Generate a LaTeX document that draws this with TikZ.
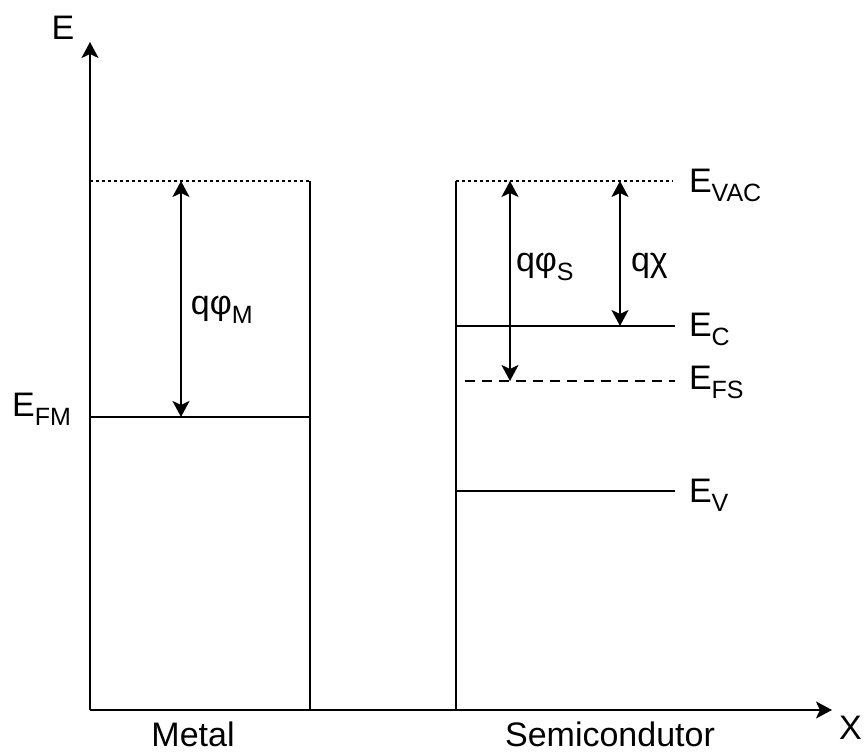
\documentclass[tikz,border=0pt]{standalone}
\usepackage{fontspec}
\setmainfont{Liberation Sans}
\usetikzlibrary{arrows.meta}
\newcommand{\lvsub}[1]{\raisebox{-4.5pt}{\fontsize{12.5}{13}\selectfont #1}}

\begin{document}
\begin{tikzpicture}[
  x=0.5pt, y=-0.5pt, font=\fontsize{17}{20}\selectfont, line width=1pt,
  >={Stealth[length=8pt,width=8.5pt,inset=2pt]},
  vac/.style={dash pattern=on 1.5pt off 1.5pt},
  fermi/.style={dash pattern=on 5pt off 3.5pt},
  gap/.style={<->,line width=1pt},
  lbl/.style={anchor=base west,inner sep=0pt},
]
\useasboundingbox (0,0) rectangle (864,753);

% Axes
\coordinate (o)    at (90,710);
\coordinate (ytip) at (90,42);
\coordinate (xtip) at (832,710);
\draw[->] (o) -- (ytip);
\draw[->] (o) -- (xtip);
\node[lbl,anchor=base] (elab) at (63,40) {E};
\node[lbl] (xlab) at (838,740) {X};

% Metal side: vacuum level, Fermi level and work function
\coordinate (mvacL) at (90,181);
\coordinate (mvacR) at (310,181);
\coordinate (mbot)  at (310,710);
\coordinate (mfL)   at (90,417);
\coordinate (mfR)   at (310,417);
\coordinate (mphiT) at (181,181);
\coordinate (mphiB) at (181,417);
\draw[vac] (mvacL) -- (mvacR);
\draw (mvacR) -- (mbot);
\draw (mfL) -- (mfR);
\draw[gap] (mphiT) -- (mphiB);
\node[lbl] (phim) at (190,315) {qφ\lvsub{M}};
\node[lbl,anchor=base east] (efm) at (72,417) {E\lvsub{FM}};
\node[lbl,anchor=base] (metal) at (193,747) {Metal};

% Semiconductor side: band edges and Fermi level
\coordinate (svacL) at (456,181);
\coordinate (svacR) at (673,181);
\coordinate (sbot)  at (456,710);
\coordinate (scL)   at (456,326);
\coordinate (scR)   at (675,326);
\coordinate (sfL)   at (465,381);
\coordinate (sfR)   at (675,381);
\coordinate (svL)   at (456,491);
\coordinate (svR)   at (675,491);
\draw[vac] (svacL) -- (svacR);
\draw (svacL) -- (sbot);
\draw (scL) -- (scR);
\draw[fermi] (sfL) -- (sfR);
\draw (svL) -- (svR);

% Work function and electron affinity
\coordinate (sphiT) at (510,181);
\coordinate (sphiB) at (510,381);
\coordinate (chiT)  at (620,181);
\coordinate (chiB)  at (620,326);
\draw[gap] (sphiT) -- (sphiB);
\draw[gap] (chiT) -- (chiB);
\node[lbl] (phis) at (515,272) {qφ\lvsub{S}};
\node[lbl] (chi)  at (630,272) {qχ};

\node[lbl] (evac) at (688,193) {E\lvsub{VAC}};
\node[lbl] (ec)   at (688,337) {E\lvsub{C}};
\node[lbl] (efs)  at (688,390) {E\lvsub{FS}};
\node[lbl] (ev)   at (688,503) {E\lvsub{V}};
\node[lbl,anchor=base] (semi) at (610,747) {Semicondutor};
\end{tikzpicture}
\end{document}
